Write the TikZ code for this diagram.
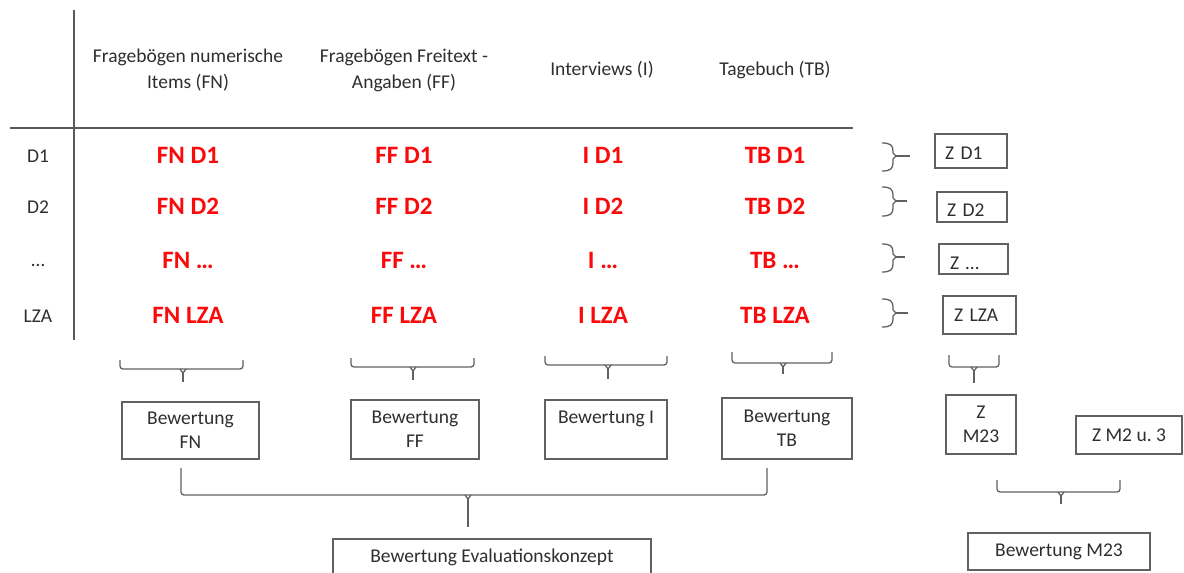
\documentclass[tikz,border=0pt]{standalone}
\usepackage{fontspec}
\setmainfont{Carlito}
\frenchspacing
\begin{document}
\begin{tikzpicture}[x=1pt,y=-1pt,
  txt/.style={font=\fontsize{19.5}{24}\selectfont, text=black!82, inner sep=0pt, align=center},
  hdr/.style={txt, font=\fontsize{19.5}{26}\selectfont},
  redtxt/.style={font=\fontsize{25}{30}\selectfont\bfseries, text={rgb,255:red,250;green,10;blue,10}, inner sep=0pt, anchor=base},
  rowlab/.style={txt, anchor=base},
  tabline/.style={draw=black!65, line width=2pt},
  box/.style={txt, draw=black!62, line width=1.3pt, inner sep=0pt},
  zbox/.style={box, align=left, inner xsep=10pt, text depth=0pt},
  brk/.style={draw=black!62, line width=1.3pt}
]
\useasboundingbox (0,0) rectangle (1184,573);
\clip (0,0) rectangle (1184,573);

% table lines
\coordinate (vtop) at (74,10);
\coordinate (vbot) at (74,340);
\coordinate (hl) at (10,128);
\coordinate (hr) at (853,128);
\draw[tabline] (vtop) -- (vbot);
\draw[tabline] (hl) -- (hr);

% headers
\node[hdr] (hFN) at (188,70) {Fragebögen numerische\\Items (FN)};
\node[hdr] (hFF) at (404,70) {Fragebögen Freitext -\\Angaben (FF)};
\node[hdr] (hI)  at (602,70) {Interviews (I)};
\node[hdr] (hTB) at (775,70) {Tagebuch (TB)};

% row labels
\node[rowlab] (rD1)  at (38,162) {D1};
\node[rowlab] (rD2)  at (38,213) {D2};
\node[rowlab] (rDx)  at (38,266) {…};
\node[rowlab] (rLZA) at (38,322) {LZA};

% red cells
\node[redtxt] (FND1)  at (188,163) {FN D1};
\node[redtxt] (FND2)  at (188,214) {FN D2};
\node[redtxt] (FNDx)  at (188,268) {FN …};
\node[redtxt] (FNLZA) at (188,323) {FN LZA};
\node[redtxt] (FFD1)  at (404,163) {FF D1};
\node[redtxt] (FFD2)  at (404,214) {FF D2};
\node[redtxt] (FFDx)  at (404,268) {FF …};
\node[redtxt] (FFLZA) at (404,323) {FF LZA};
\node[redtxt] (ID1)   at (603,163) {I D1};
\node[redtxt] (ID2)   at (603,214) {I D2};
\node[redtxt] (IDx)   at (603,268) {I …};
\node[redtxt] (ILZA)  at (603,323) {I LZA};
\node[redtxt] (TBD1)  at (775,163) {TB D1};
\node[redtxt] (TBD2)  at (775,214) {TB D2};
\node[redtxt] (TBDx)  at (775,268) {TB …};
\node[redtxt] (TBLZA) at (775,323) {TB LZA};

% right braces
\foreach \t/\b/\m/\tx/\nm in {143/171/156/910/bD1, 187/216/201/907/bD2, 244/272/257/905/bDx, 299/327/313/908/bLZA}{
  \coordinate (\nm) at (\tx,\m);
  \draw[brk] (882,\t) .. controls (890,\t) and (893,\t+2) .. (893,\t+8) -- (893,\m-3) -- (896,\m) -- (893,\m+3) -- (893,\b-8) .. controls (893,\b-2) and (890,\b) .. (882,\b);
  \draw[brk] (896,\m) -- (\nm);
}

% Z boxes
\node[zbox, minimum width=72pt, minimum height=34pt, text width=52pt, text height=16pt] (zD1) at (971,151) {Z D1};
\node[zbox, minimum width=70pt, minimum height=30pt, text width=50pt, text height=18pt] (zD2) at (972,207) {Z D2};
\node[zbox, minimum width=67pt, minimum height=30pt, text width=47pt, text height=20pt, inner xsep=11pt] (zDx) at (973.5,259) {Z …};
\node[zbox, minimum width=73pt, minimum height=38pt, text width=51pt, text height=12pt, inner xsep=11pt] (zLZA) at (979.5,315) {Z LZA};

% column brackets
\foreach \l/\r/\tp/\h/\m/\bt/\nm in {120/243/360/369/183/382/kFN, 351/474/358/367/413/380/kFF, 545/667/356/365/608/379/kI, 732/832/352/363/783/374/kTB, 949/999/355/367/974/383/kZ, 997/1120/480/492/1061/504/kM, 181/767/468/495/468/527/kEval}{
  \coordinate (\nm) at (\m,\bt);
  \draw[brk, rounded corners=3pt] (\l,\tp) -- (\l,\h) -- (\r,\h) -- (\r,\tp);
  \draw[brk] (\m-3,\h) -- (\m,\h+4) -- (\m+3,\h);
  \draw[brk] (\m,\h+4) -- (\nm);
}

% Bewertung boxes
\node[box, minimum width=137pt, minimum height=57pt] (bFN) at (190.5,430.5) {Bewertung\\FN};
\node[box, minimum width=128pt, minimum height=59pt] (bFF) at (415,429.5) {Bewertung\\FF};
\node[box, minimum width=122pt, minimum height=59pt] (bI)  at (606,429.5) {Bewertung I\\\mbox{}};
\node[box, minimum width=130pt, minimum height=61pt] (bTB) at (787,428.5) {Bewertung\\TB};
\node[box, minimum width=70pt, minimum height=59pt] (zM23) at (981,424.5) {Z\\M23};
\node[box, minimum width=106pt, minimum height=38pt] (zM2u3) at (1129,435) {Z M2 u. 3};

\node[box, minimum width=318pt, minimum height=46pt, text height=5pt, text depth=5pt] (bEval) at (492,562) {Bewertung Evaluationskonzept};
\node[box, minimum width=182pt, minimum height=37pt] (bM23) at (1059,551.5) {Bewertung M23};
\end{tikzpicture}
\end{document}
